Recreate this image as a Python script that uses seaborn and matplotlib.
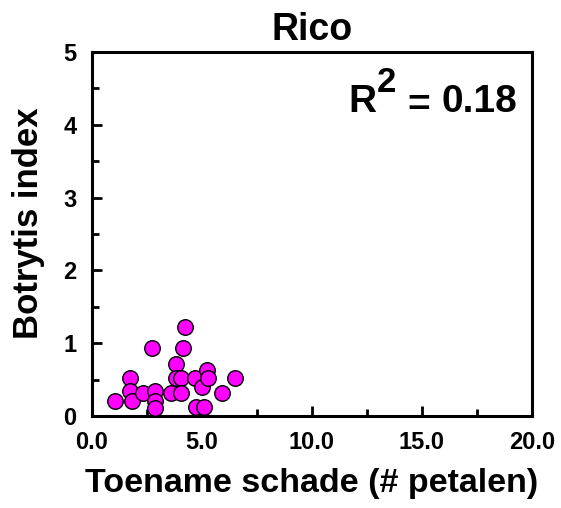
import matplotlib
matplotlib.use("Agg")
import matplotlib.pyplot as plt
import seaborn as sns
import pandas as pd
from matplotlib.ticker import MultipleLocator, FormatStrFormatter

# Data
toename_schade = [1.06, 1.72, 1.72, 1.82, 2.32, 2.73, 2.85, 2.85, 2.85, 3.60,
                  3.82, 3.82, 4.06, 4.06, 4.13, 4.21, 4.69, 4.72, 5.11, 4.99,
                  5.22, 5.29, 5.90, 6.50]
botrytis_index = [0.21, 0.52, 0.34, 0.21, 0.31, 0.93, 0.34, 0.21, 0.11, 0.31,
                  0.72, 0.52, 0.52, 0.31, 0.93, 1.22, 0.52, 0.12, 0.12, 0.40,
                  0.63, 0.52, 0.31, 0.52]
title = "Rico"
r2_parts = ["R", "2", "=", "0.18"]
x_ticks = [0, 5, 10, 15, 20]
y_ticks = [0, 1, 2, 3, 4, 5]

df = pd.DataFrame({"x": toename_schade, "y": botrytis_index})

sns.set_style("ticks")
plt.rcParams["font.family"] = ["Liberation Sans", "DejaVu Sans"]
for key in ["text.color", "axes.labelcolor", "xtick.color", "ytick.color",
            "axes.edgecolor"]:
    plt.rcParams[key] = "black"

W, H = 561, 508
fig = plt.figure(figsize=(W / 100, H / 100), dpi=100)
ax = fig.add_axes([92/W, 92/H, 440/W, 364/H])

sns.scatterplot(data=df, x="x", y="y", ax=ax, color="#FF00FF", s=125,
                edgecolor="black", linewidth=1.0, zorder=3, legend=False)

ax.set_xlim(0, 20)
ax.set_ylim(0, 5)
ax.set_xticks(x_ticks)
ax.set_yticks(y_ticks)
ax.xaxis.set_minor_locator(MultipleLocator(2.5))
ax.yaxis.set_minor_locator(MultipleLocator(0.5))
ax.xaxis.set_major_formatter(FormatStrFormatter("%.1f"))
ax.yaxis.set_major_formatter(FormatStrFormatter("%d"))

for side in ["left", "right", "top", "bottom"]:
    ax.spines[side].set_visible(True)
    ax.spines[side].set_linewidth(2.2)
    ax.spines[side].set_color("black")

ax.tick_params(which="major", direction="in", length=7, width=2, labelsize=17,
               pad=11, colors="black")
ax.tick_params(which="minor", direction="in", length=5, width=2, colors="black")
for lab in ax.get_xticklabels() + ax.get_yticklabels():
    lab.set_fontweight("bold")

ax.set_xlabel("Toename schade (# petalen)", fontsize=24.5, fontweight="bold",
              labelpad=10)
ax.set_ylabel("Botrytis index", fontsize=25, fontweight="bold")
ax.yaxis.set_label_coords(-0.107, 0.53)
ax.set_title(title, fontsize=27, fontweight="bold", pad=9)

# R^2 annotation, composed piece by piece (large raised superscript)
renderer = fig.canvas.get_renderer()

def put(x_right_px, baseline_px_from_top, s, size):
    t = fig.text(x_right_px / W, (H - baseline_px_from_top) / H, s,
                 ha="right", va="baseline", fontsize=size, fontweight="bold")
    return t.get_window_extent(renderer).x0

left = put(517, 112, r2_parts[3], 28)
left = put(left - 11, 116, r2_parts[2], 28)
left = put(left - 11, 92, r2_parts[1], 25)
put(left - 1, 112, r2_parts[0], 28)

fig.savefig("out.png", dpi=100)
